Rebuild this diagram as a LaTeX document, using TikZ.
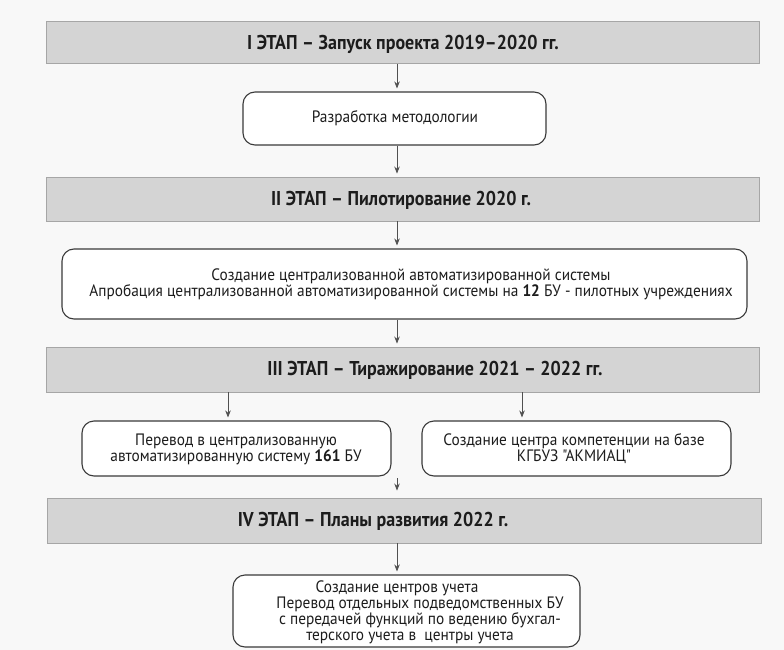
\documentclass[tikz,border=0pt]{standalone}
\usepackage{fontspec}
\setmainfont{PT Sans}
\newfontfamily\hdrfont{PT Sans}[FakeStretch=0.9]
\newfontfamily\bodyfont{PT Sans}[FakeStretch=0.93]
\usetikzlibrary{arrows.meta}
\definecolor{bgc}{HTML}{F8F8F8}
\definecolor{hdrfill}{HTML}{D4D4D4}
\definecolor{hdrdraw}{HTML}{A6A6A6}
\definecolor{boxdraw}{HTML}{3A3A3A}
\definecolor{arrc}{HTML}{505050}
\definecolor{txtc}{HTML}{1C1C1C}
\begin{document}
\begin{tikzpicture}[x=1pt,y=-1pt,
  hdr/.style={draw=hdrdraw, fill=hdrfill, line width=0.9pt, inner sep=0pt},
  rbox/.style={draw=boxdraw, fill=white, rounded corners=12pt, line width=1.1pt, inner sep=0pt},
  link/.style={draw=arrc, line width=0.8pt, -{Stealth[length=7pt,width=5.5pt]}, shorten >=3pt},
  htxt/.style={font=\hdrfont\bfseries\fontsize{20}{23}\selectfont, text=txtc, inner sep=0pt},
  btxt/.style={font=\bodyfont\fontsize{16.5}{16}\selectfont, align=center, text=txtc, inner sep=0pt}]
\useasboundingbox (0,0) rectangle (784,650);
\fill[bgc] (0,0) rectangle (784,650);

% boxes
\node[hdr, minimum width=713pt, minimum height=42pt] (I) at (402.5,42.5) {};
\node[rbox, minimum width=303pt, minimum height=53pt] (M) at (394.5,118.5) {};
\node[hdr, minimum width=713pt, minimum height=44pt] (II) at (402.5,199) {};
\node[rbox, minimum width=685pt, minimum height=70pt] (P) at (404.5,284) {};
\node[hdr, minimum width=713pt, minimum height=45pt] (III) at (402.5,369.5) {};
\node[rbox, minimum width=309pt, minimum height=55pt] (L) at (236.5,448.5) {};
\node[rbox, minimum width=309pt, minimum height=55pt] (R) at (576.5,448.5) {};
\node[hdr, minimum width=714pt, minimum height=45pt] (IV) at (404,520.5) {};
\node[rbox, minimum width=347pt, minimum height=72pt] (B) at (406.5,611) {};

% texts
\node[htxt] (tI) at (403,44) {I ЭТАП – Запуск проекта 2019–2020 гг.};
\node[btxt] (tM) at (395,118.5) {Разработка методологии};
\node[htxt] (tII) at (401,200) {II ЭТАП – Пилотирование 2020 г.};
\node[btxt] (tP) at (411,284) {Создание централизованной автоматизированной системы\\
  Апробация централизованной автоматизированной системы на \textbf{12} БУ - пилотных учреждениях};
\node[btxt] (tL) at (236,449) {Перевод в централизованную\\автоматизированную систему \textbf{161} БУ};
\node[btxt] (tR) at (574,449) {Создание центра компетенции на базе\\КГБУЗ "АКМИАЦ"};
\node[htxt] (tIII) at (435,370) {III ЭТАП – Тиражирование 2021 – 2022 гг.};
\node[htxt] (tIV) at (373,521) {IV ЭТАП – Планы развития 2022 г.};
\node[btxt] (tB) at (410,612) {Создание центров учета\hspace*{26pt}\\
  \hspace*{20pt}Перевод отдельных подведомственных БУ\\
  \hspace*{20pt}с передачей функций по ведению бухгал-\\
  терского учета в\ \ центры учета};

% connectors
\coordinate (ax) at (397,0);
\coordinate (lx) at (228,0);
\coordinate (rx) at (522,0);
\coordinate (s) at (397,478);
\draw[link] (ax |- I.south) -- (ax |- M.north);
\draw[link] (ax |- M.south) -- (ax |- II.north);
\draw[link] (ax |- II.south) -- (ax |- P.north);
\draw[link] (ax |- P.south) -- (ax |- III.north);
\draw[link] (lx |- III.south) -- (lx |- L.north);
\draw[link] (rx |- III.south) -- (rx |- R.north);
\draw[link, shorten >=7pt] (s) -- (ax |- IV.north);
\draw[link] (ax |- IV.south) -- (ax |- B.north);
\end{tikzpicture}
\end{document}
